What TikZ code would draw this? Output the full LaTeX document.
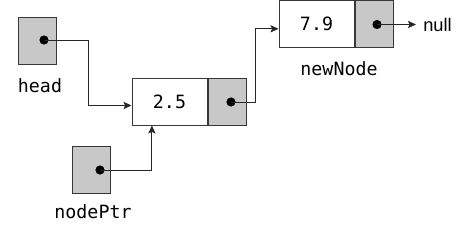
\documentclass[tikz,border=0pt]{standalone}
\usepackage{fontspec}
\setmonofont{DejaVu Sans Mono}
\setsansfont{Liberation Sans}
\usepackage{tikz}
\usetikzlibrary{arrows.meta, positioning}

\definecolor{ptrgray}{RGB}{200,200,200}
\definecolor{edgegray}{RGB}{55,55,55}

\begin{document}
\begin{tikzpicture}[
  x=0.025cm, y=-0.025cm,
  ptrbox/.style={draw=edgegray, fill=ptrgray, line width=0.7pt,
                 minimum width=0.95cm, minimum height=1.175cm, inner sep=0pt},
  valbox/.style={draw=edgegray, fill=white, line width=0.7pt,
                 minimum width=1.875cm, minimum height=1.175cm, inner sep=0pt,
                 font=\ttfamily\fontsize{13}{15}\selectfont},
  dot/.style={circle, fill=black, inner sep=0pt, minimum size=0.23cm},
  varname/.style={font=\ttfamily\fontsize{13}{15}\selectfont, inner sep=0pt},
  link/.style={draw=black!85, line width=0.6pt,
               -{Stealth[length=0.2cm, width=0.18cm, inset=0.04cm]}}
]
\useasboundingbox (0,0) rectangle (464,231);

% head pointer
\node[ptrbox] (head) at (37,40.5) {};
\node[dot] (hdot) at (44,40) {};
\node[varname] (headlbl) at (40,86) {head};

% first list node
\node[valbox] (v1) at (169.5,101.5) {2.5};
\node[ptrbox, right=0pt of v1] (p1) {};
\node[dot] (pdot1) at (231,102) {};

% second list node
\node[valbox] (v2) at (316.5,24) {7.9};
\node[ptrbox, right=0pt of v2] (p2) {};
\node[dot] (pdot2) at (377,24.5) {};
\node[varname] (newlbl) at (339,69) {newNode};
\node[anchor=west, inner sep=0.175cm, font=\sffamily\fontsize{13}{15}\selectfont] (null) at (416,24.5) {null};

% nodePtr pointer
\node[ptrbox] (np) at (91,169.5) {};
\node[dot] (ndot) at (100,170) {};
\node[varname] (nplbl) at (93,212) {nodePtr};

% links
\draw[link] (hdot.center) -- ++(44,0) |- ([yshift=-0.1cm]v1.west);
\draw[link] (pdot1.center) -- ++(24,0) |- ([yshift=-0.12cm]v2.west);
\draw[link] (pdot2.center) -- (null.west);
\draw[link] (ndot.center) -| ([xshift=-0.44cm]v1.south);
\end{tikzpicture}
\end{document}
